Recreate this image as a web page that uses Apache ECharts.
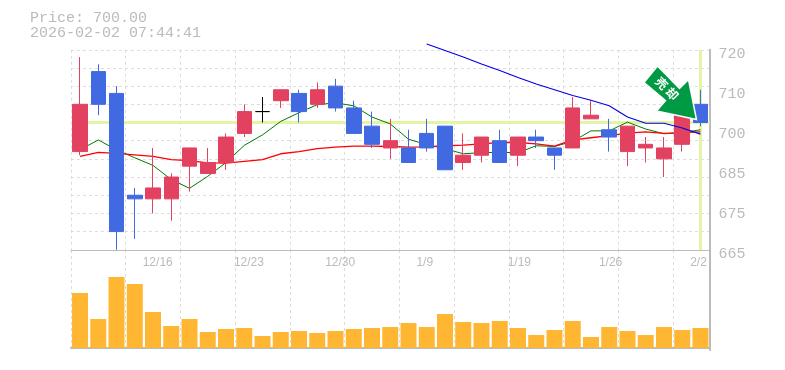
<!DOCTYPE html>
<html>
<head>
<meta charset="utf-8">
<style>
  html, body { margin: 0; padding: 0; background: #fff; }
  #chart { width: 785px; height: 370px; }
</style>
<script src="https://cdn.jsdelivr.net/npm/echarts@6/dist/echarts.min.js"></script>
</head>
<body>
<div id="chart"></div>
<script>
const titleText = ['Price: 700.00', '2026-02-02 07:44:41']
const dates = ['12/10', '12/11', '12/12', '12/15', '12/16', '12/17', '12/18', '12/19', '12/22', '12/23',
  '12/24', '12/25', '12/26', '12/29', '12/30', '1/5', '1/6', '1/7', '1/8', '1/9',
  '1/13', '1/14', '1/15', '1/16', '1/19', '1/20', '1/21', '1/22', '1/23', '1/26',
  '1/27', '1/28', '1/29', '1/30', '2/2']
const shownDates = ['12/16', '12/23', '12/30', '1/9', '1/19', '1/26', '2/2']
// open, close, low, high
const candles = [
  [692, 705, 691, 718], [714, 705, 702, 716], [708, 670, 665, 710], [680, 679, 668, 682], [679, 682, 675, 693],
  [679, 685, 673, 686], [688, 693, 681, 693], [686, 689, 686, 693], [689, 696, 687, 697], [697, 703, 696, 705],
  [703, 703, 700, 707], [706, 709, 704, 709], [708, 703, 700, 709], [705, 709, 704, 711], [710, 704, 703, 712],
  [704, 697, 697, 706], [699, 694, 693, 703], [693, 695, 690, 701], [693, 689, 689, 698], [697, 693, 692, 701],
  [699, 687, 687, 699], [689, 691, 687, 697], [691, 696, 689, 696], [695, 689, 689, 698], [691, 696, 688, 696],
  [696, 695, 693, 698], [693, 691, 687, 693], [693, 704, 693, 707], [701, 702, 701, 706], [698, 696, 692, 701],
  [692, 699, 688, 699], [693, 694, 689, 696], [690, 693, 685, 696], [694, 704, 692, 704], [705, 700, 699, 709]
]
const maShort = [692.5, 695.2, 692.5, 690.3, 688.2, 684.3, 681.9, 685.2, 689, 693.7,
  696.6, 700.3, 702.7, 704.9, 705.4, 704.6, 701.5, 699.6, 695.4, 693.9,
  692.8, 691.4, 691.7, 691.8, 691.7, 693.6, 693.4, 694.8, 697.7, 697.7,
  700.1, 698.2, 696.9, 697.2, 698]
const maMid = [690.7, 691.8, 691.5, 691.1, 690.7, 689.8, 689.5, 688.9, 688.8, 689.3,
  689.8, 691.4, 692, 692.8, 693.2, 693.5, 693.5, 693.4, 693.2, 693.3,
  693.6, 693.8, 694.1, 694.5, 694.5, 694.1, 693.5, 695.2, 695.8, 696.4,
  697.1, 697.4, 697, 697.2, 697.4]
const maLong = ['-', '-', '-', '-', '-', '-', '-', '-', '-', '-',
  '-', '-', '-', '-', '-', '-', '-', '-', '-', 721.6,
  719.8, 718, 716.1, 714.3, 712.4, 710.6, 709, 707.4, 706.1, 704.6,
  701.5, 699.8, 699.8, 698.5, 696.8]
const volumes = [55, 29, 71, 64, 36, 22, 29, 16, 19, 20, 12, 16, 17, 15, 17, 19, 20, 21,
  25, 21, 34, 26, 25, 27, 20, 13, 18, 27, 11, 21, 17, 13, 21, 18, 20]
const priceTicks = [720, 709, 698, 687, 676, 665]
const priceLabels = ['720', '710', '700', '685', '675', '665']
const currentPrice = 700

const gray = '#bbbbbb'
const gridLine = { show: true, lineStyle: { color: '#dddddd', type: [3, 3], width: 1 } }
const monoFont = '"Liberation Mono", monospace'

const chart = echarts.init(document.getElementById('chart'), null, { renderer: 'canvas' })
chart.setOption({
  animation: false,
  backgroundColor: '#fff',
  title: {
    text: titleText.join('\n'),
    left: 30,
    top: 11,
    padding: 0,
    textStyle: { fontFamily: monoFont, fontSize: 15, lineHeight: 15, fontWeight: 'normal', color: gray }
  },
  grid: [
    { left: 70.9, width: 638.7, top: 49.77, height: 200 },
    { left: 70.9, width: 638.7, top: 250, height: 100 },
    // only carries the date labels, nudged left so they sit on the cell edge
    { left: 69.7, width: 638.7, top: 250, height: 100 }
  ],
  xAxis: [
    {
      type: 'category', gridIndex: 0, data: dates,
      axisLine: { lineStyle: { color: gray, width: 1 } },
      axisTick: { show: false }, axisLabel: { show: false },
      splitLine: gridLine
    },
    {
      type: 'category', gridIndex: 1, data: dates,
      axisLine: { lineStyle: { color: gray, width: 2 } },
      axisTick: { show: false }, axisLabel: { show: false },
      splitLine: gridLine
    },
    {
      type: 'category', gridIndex: 2, position: 'top', boundaryGap: false,
      data: dates.concat(''),
      axisLine: { show: false }, axisTick: { show: false }, splitLine: { show: false },
      axisLabel: {
        inside: true, interval: 0, margin: 7, align: 'left', color: gray, fontSize: 12,
        fontFamily: '"Liberation Sans", sans-serif', hideOverlap: false,
        formatter: (v) => (shownDates.includes(v) ? v : '')
      }
    }
  ],
  yAxis: [
    {
      type: 'value', gridIndex: 0, position: 'right', min: 665, max: 720, interval: 5,
      axisLine: { show: true, lineStyle: { color: gray, width: 2 } },
      axisTick: { show: false },
      axisLabel: {
        customValues: priceTicks, margin: 9, color: gray, fontSize: 15, fontFamily: monoFont,
        verticalAlign: 'top', padding: [-3, 0, 0, 0],
        formatter: (v) => priceLabels[priceTicks.indexOf(v)]
      },
      splitLine: gridLine
    },
    {
      type: 'value', gridIndex: 1, position: 'right', min: -2, max: 98,
      axisLine: { show: true, lineStyle: { color: gray, width: 2 } },
      axisTick: { show: false }, axisLabel: { show: false }, splitLine: { show: false }
    },
    {
      type: 'value', gridIndex: 2, show: false
    }
  ],
  series: [
    {
      type: 'line', xAxisIndex: 0, yAxisIndex: 0, data: [], z: 1, silent: true,
      markLine: {
        z: 1, symbol: 'none', silent: true, label: { show: false }, animation: false,
        lineStyle: { color: '#e2f5a5', width: 3, type: 'solid' },
        data: [{ yAxis: currentPrice }, { xAxis: dates[dates.length - 1] }]
      }
    },
    {
      type: 'line', xAxisIndex: 0, yAxisIndex: 0, data: maShort, z: 2, clip: false,
      showSymbol: false, symbol: 'none', lineStyle: { color: '#007a00', width: 1 }
    },
    {
      type: 'line', xAxisIndex: 0, yAxisIndex: 0, data: maMid, z: 2, clip: false,
      showSymbol: false, symbol: 'none', lineStyle: { color: '#ff0000', width: 1.3 }
    },
    {
      type: 'candlestick', xAxisIndex: 0, yAxisIndex: 0, data: candles, z: 3, barWidth: 15, clip: false,
      itemStyle: {
        color: '#e2415f', borderColor: '#e2415f', color0: '#4169e1', borderColor0: '#4169e1',
        borderColorDoji: '#000000', borderWidth: 1
      }
    },
    {
      type: 'line', xAxisIndex: 0, yAxisIndex: 0, data: maLong, z: 4, clip: false,
      showSymbol: false, symbol: 'none', lineStyle: { color: '#0000e6', width: 1.1 }
    },
    {
      type: 'bar', xAxisIndex: 1, yAxisIndex: 1, data: volumes, barWidth: 16,
      itemStyle: { color: '#ffb733' }
    }
  ],
  graphic: [
    {
      // sell-signal arrow
      type: 'polygon', z: 100,
      shape: { points: [[657.5, 66], [679.5, 88.5], [688.5, 79.5], [696.5, 119.5], [656.5, 111], [665.5, 100.5], [644, 82.5]] },
      style: { fill: '#009944', stroke: '#ffffff', lineWidth: 1.5 }
    },
    {
      type: 'text', z: 101, x: 667, y: 88.5, rotation: -Math.PI / 4,
      style: { text: '売 却', fill: '#ffffff', font: 'bold 12px "Noto Sans CJK JP"', align: 'center', verticalAlign: 'middle' }
    }
  ]
})
</script>
</body>
</html>
